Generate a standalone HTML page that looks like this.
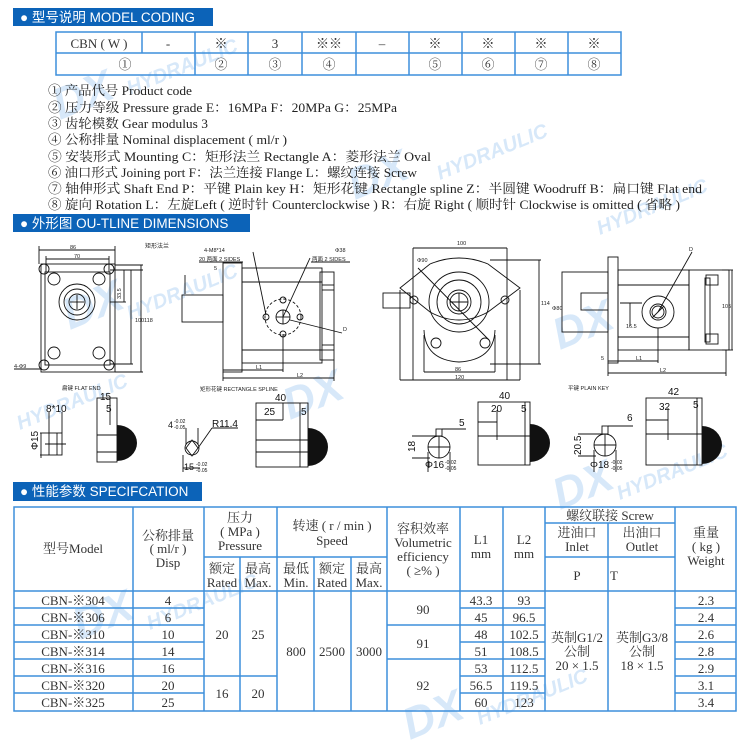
<!DOCTYPE html>
<html><head><meta charset="utf-8"><style>
html,body{margin:0;padding:0;background:#fff;}
svg{display:block;}
.s{font-family:"Liberation Serif","Noto Serif CJK SC","Noto Sans CJK SC",serif;}
.h{font-family:"Liberation Sans","Noto Sans CJK SC",sans-serif;}
</style></head><body>
<svg width="750" height="742" viewBox="0 0 750 742" xmlns="http://www.w3.org/2000/svg">
<rect width="750" height="742" fill="#fff"/>

<!-- watermarks -->
<g fill="#9cc6f0" opacity="0.4" class="h" font-weight="bold">
<text x="60" y="120" font-size="44" font-style="italic" transform="rotate(-22 60 120)">DX</text>
<text x="130" y="95" font-size="20" font-style="italic" transform="rotate(-22 130 95)">HYDRAULIC</text>
<text x="355" y="200" font-size="44" font-style="italic" transform="rotate(-22 355 200)">DX</text>
<text x="440" y="180" font-size="20" font-style="italic" transform="rotate(-22 440 180)">HYDRAULIC</text>
<text x="560" y="350" font-size="44" font-style="italic" transform="rotate(-22 560 350)">DX</text>
<text x="600" y="235" font-size="20" font-style="italic" transform="rotate(-22 600 235)">HYDRAULIC</text>
<text x="70" y="330" font-size="44" font-style="italic" transform="rotate(-22 70 330)">DX</text>
<text x="130" y="320" font-size="20" font-style="italic" transform="rotate(-22 130 320)">HYDRAULIC</text>
<text x="20" y="430" font-size="20" font-style="italic" transform="rotate(-22 20 430)">HYDRAULIC</text>
<text x="290" y="420" font-size="44" font-style="italic" transform="rotate(-22 290 420)">DX</text>
<text x="560" y="510" font-size="44" font-style="italic" transform="rotate(-22 560 510)">DX</text>
<text x="620" y="500" font-size="20" font-style="italic" transform="rotate(-22 620 500)">HYDRAULIC</text>
<text x="80" y="640" font-size="44" font-style="italic" transform="rotate(-22 80 640)">DX</text>
<text x="150" y="630" font-size="20" font-style="italic" transform="rotate(-22 150 630)">HYDRAULIC</text>
<text x="410" y="740" font-size="44" font-style="italic" transform="rotate(-22 410 740)">DX</text>
<text x="480" y="725" font-size="20" font-style="italic" transform="rotate(-22 480 725)">HYDRAULIC</text>
</g>

<!-- Section headers -->
<rect x="13" y="8" width="200" height="18" fill="#0c63b8"/>
<text x="20" y="22" class="h" font-size="13.5" fill="#fff">● 型号说明  MODEL CODING</text>
<rect x="13" y="214" width="237" height="18" fill="#0c63b8"/>
<text x="20" y="228" class="h" font-size="13.5" fill="#fff">● 外形图  OU-TLINE DIMENSIONS</text>
<rect x="13" y="482" width="189" height="19" fill="#0c63b8"/>
<text x="20" y="496" class="h" font-size="13.5" fill="#fff">● 性能参数  SPECIFCATION</text>

<!-- coding table -->
<g stroke="#3d8fdc" stroke-width="1.5" fill="none">
<rect x="56" y="32" width="565" height="43"/>
<line x1="56" y1="53" x2="621" y2="53"/>
<line x1="142" y1="32" x2="142" y2="53"/>
<line x1="195" y1="32" x2="195" y2="75"/>
<line x1="248" y1="32" x2="248" y2="75"/>
<line x1="302" y1="32" x2="302" y2="75"/>
<line x1="356" y1="32" x2="356" y2="75"/>
<line x1="409" y1="32" x2="409" y2="75"/>
<line x1="462" y1="32" x2="462" y2="75"/>
<line x1="515" y1="32" x2="515" y2="75"/>
<line x1="568" y1="32" x2="568" y2="75"/>
</g>
<g class="s" font-size="13" fill="#333" text-anchor="middle">
<text x="99" y="48">CBN ( W )</text><text x="168" y="48">-</text><text x="221" y="48">※</text><text x="275" y="48">3</text><text x="329" y="48">※※</text><text x="382" y="48">–</text><text x="435" y="48">※</text><text x="488" y="48">※</text><text x="541" y="48">※</text><text x="594" y="48">※</text>
<text x="125" y="69">①</text><text x="221" y="69">②</text><text x="275" y="69">③</text><text x="329" y="69">④</text><text x="435" y="69">⑤</text><text x="488" y="69">⑥</text><text x="541" y="69">⑦</text><text x="594" y="69">⑧</text>
</g>
<g class="s" font-size="13" fill="#222">
<text x="48" y="95" textLength="144" lengthAdjust="spacingAndGlyphs">① 产品代号 Product code</text>
<text x="48" y="112" textLength="349" lengthAdjust="spacingAndGlyphs">② 压力等级 Pressure grade E：16MPa  F：20MPa  G：25MPa</text>
<text x="48" y="128" textLength="160" lengthAdjust="spacingAndGlyphs">③ 齿轮模数 Gear modulus 3</text>
<text x="48" y="144" textLength="239" lengthAdjust="spacingAndGlyphs">④ 公称排量 Nominal displacement ( ml/r )</text>
<text x="48" y="161" textLength="383" lengthAdjust="spacingAndGlyphs">⑤ 安装形式 Mounting  C：矩形法兰 Rectangle   A：菱形法兰 Oval</text>
<text x="48" y="177" textLength="369" lengthAdjust="spacingAndGlyphs">⑥ 油口形式 Joining port F：法兰连接 Flange L：螺纹连接 Screw</text>
<text x="48" y="193" textLength="654" lengthAdjust="spacingAndGlyphs">⑦  轴伸形式 Shaft End  P：平键 Plain key  H：矩形花键 Rectangle spline  Z：半圆键 Woodruff  B：扁口键 Flat end</text>
<text x="48" y="209" textLength="632" lengthAdjust="spacingAndGlyphs">⑧ 旋向 Rotation L：左旋Left ( 逆时针 Counterclockwise ) R：右旋 Right ( 顺时针 Clockwise is omitted ( 省略 )</text>
</g>

<!-- DRAWINGS -->
<g stroke="#111" stroke-width="0.9" fill="none">
<rect x="41" y="264" width="74" height="108"/>
<rect x="45" y="272" width="65" height="93"/>
<circle cx="44" cy="269" r="5"/><circle cx="109" cy="269" r="5"/><circle cx="44" cy="365" r="5"/><circle cx="109" cy="365" r="5"/>
<circle cx="54" cy="279" r="6"/><circle cx="99" cy="279" r="6"/><circle cx="54" cy="353" r="6"/><circle cx="99" cy="353" r="6"/>
<circle cx="77" cy="302" r="18"/><circle cx="77" cy="302" r="13"/><circle cx="77" cy="302" r="8"/>
<line x1="70" y1="302" x2="84" y2="302"/><line x1="77" y1="295" x2="77" y2="309"/>
<line x1="39" y1="250" x2="115" y2="250"/><line x1="39" y1="246" x2="39" y2="264"/><line x1="115" y1="246" x2="115" y2="264"/>
<line x1="46" y1="259" x2="109" y2="259"/><line x1="46" y1="256" x2="46" y2="272"/><line x1="109" y1="256" x2="109" y2="272"/>
<line x1="124" y1="270" x2="124" y2="302"/><line x1="131" y1="270" x2="131" y2="364"/><line x1="141" y1="265" x2="141" y2="372"/>
<line x1="110" y1="270" x2="143" y2="270"/><line x1="110" y1="302" x2="126" y2="302"/><line x1="110" y1="364" x2="133" y2="364"/><line x1="115" y1="265" x2="143" y2="265"/><line x1="115" y1="372" x2="143" y2="372"/>
<line x1="14" y1="369" x2="42" y2="369"/>
<rect x="182" y="295" width="41" height="27"/>
<rect x="223" y="263" width="19" height="109"/>
<rect x="242" y="268" width="80" height="95"/>
<line x1="242" y1="282" x2="322" y2="282"/><line x1="242" y1="350" x2="322" y2="350"/>
<rect x="320" y="272" width="14" height="88"/>
<line x1="322" y1="285" x2="334" y2="285"/><line x1="322" y1="290" x2="334" y2="290"/><line x1="322" y1="345" x2="334" y2="345"/><line x1="322" y1="350" x2="334" y2="350"/>
<circle cx="283" cy="317" r="18" stroke-dasharray="3 2"/>
<circle cx="283" cy="317" r="7"/><circle cx="266" cy="317" r="3"/><circle cx="300" cy="317" r="3"/><circle cx="283" cy="300" r="3"/><circle cx="283" cy="334" r="3"/>
<line x1="276" y1="317" x2="290" y2="317"/><line x1="283" y1="310" x2="283" y2="324"/>
<line x1="253" y1="252" x2="266" y2="315"/><line x1="310" y1="258" x2="283" y2="317"/><line x1="290" y1="320" x2="342" y2="333"/>
<line x1="199" y1="262" x2="243" y2="262"/><line x1="311" y1="262" x2="350" y2="262"/>
<line x1="223" y1="370" x2="283" y2="370"/><line x1="223" y1="378" x2="334" y2="378"/><line x1="223" y1="372" x2="223" y2="381"/><line x1="283" y1="334" x2="283" y2="372"/><line x1="334" y1="360" x2="334" y2="381"/>
<line x1="185" y1="275" x2="185" y2="294"/>
<rect x="49" y="433" width="13" height="22"/><line x1="57" y1="433" x2="57" y2="455"/><line x1="45" y1="444" x2="66" y2="444"/>
<line x1="49" y1="412" x2="49" y2="433"/><line x1="62" y1="412" x2="62" y2="433"/><line x1="40" y1="433" x2="49" y2="433"/><line x1="40" y1="455" x2="49" y2="455"/><line x1="41" y1="433" x2="41" y2="458"/>
<rect x="97" y="398" width="20" height="64"/><line x1="97" y1="435" x2="117" y2="435"/><line x1="97" y1="452" x2="117" y2="452"/>
<line x1="110" y1="398" x2="110" y2="425"/>
<path d="M186 448 L192 440 L198 448 L192 456 Z"/><circle cx="192" cy="448" r="7"/>
<line x1="186" y1="428" x2="186" y2="445"/><line x1="198" y1="428" x2="198" y2="445"/><line x1="183" y1="468" x2="200" y2="468"/><line x1="183" y1="455" x2="183" y2="472"/>
<line x1="198" y1="448" x2="212" y2="428"/><line x1="212" y1="428" x2="238" y2="428"/>
<rect x="256" y="403" width="52" height="64"/><line x1="256" y1="420" x2="283" y2="420"/><line x1="283" y1="403" x2="283" y2="420"/><line x1="256" y1="440" x2="308" y2="440"/><line x1="256" y1="452" x2="308" y2="452"/>
<line x1="300" y1="403" x2="300" y2="467"/>
<path d="M400 288 L430 264 Q459 252 488 264 L520 288 L488 312 Q459 328 430 312 Z"/>
<circle cx="459" cy="302" r="30"/><circle cx="459" cy="302" r="22"/><circle cx="459" cy="302" r="12"/><circle cx="459" cy="302" r="9"/>
<line x1="450" y1="302" x2="468" y2="302"/><line x1="459" y1="293" x2="459" y2="311"/>
<line x1="418" y1="268" x2="489" y2="340"/>
<path d="M424 330 Q425 360 459 362 Q494 360 495 330"/>
<circle cx="436" cy="343" r="5"/><circle cx="485" cy="343" r="5"/>
<circle cx="414" cy="300" r="4"/><circle cx="505" cy="300" r="4"/>
<rect x="383" y="293" width="27" height="15"/>
<line x1="413" y1="248" x2="507" y2="248"/><line x1="413" y1="248" x2="413" y2="380"/><line x1="507" y1="248" x2="507" y2="380"/>
<line x1="400" y1="380" x2="520" y2="380"/><line x1="400" y1="290" x2="400" y2="380"/><line x1="520" y1="290" x2="520" y2="380"/>
<line x1="424" y1="372" x2="495" y2="372"/><line x1="424" y1="335" x2="424" y2="372"/><line x1="495" y1="335" x2="495" y2="372"/>
<line x1="539" y1="260" x2="539" y2="364"/><line x1="490" y1="260" x2="541" y2="260"/><line x1="490" y1="364" x2="541" y2="364"/>
<rect x="562" y="272" width="46" height="60"/>
<rect x="581" y="293" width="27" height="17"/>
<rect x="608" y="257" width="10" height="106"/>
<rect x="618" y="270" width="71" height="80"/>
<line x1="618" y1="285" x2="689" y2="285"/><line x1="618" y1="337" x2="689" y2="337"/>
<rect x="689" y="270" width="40" height="80"/>
<rect x="705" y="278" width="5" height="64"/>
<rect x="706" y="275" width="12" height="10"/><rect x="706" y="334" width="12" height="10"/>
<circle cx="658" cy="312" r="16"/><circle cx="658" cy="312" r="8"/><circle cx="658" cy="312" r="6"/>
<line x1="652" y1="318" x2="664" y2="306"/><line x1="658" y1="312" x2="692" y2="252"/>
<line x1="620" y1="303" x2="642" y2="303"/><line x1="630" y1="303" x2="630" y2="326"/>
<line x1="608" y1="361" x2="658" y2="361"/><line x1="658" y1="328" x2="658" y2="363"/>
<line x1="608" y1="373" x2="726" y2="373"/><line x1="608" y1="363" x2="608" y2="376"/><line x1="726" y1="350" x2="726" y2="376"/>
<line x1="722" y1="270" x2="733" y2="270"/><line x1="722" y1="350" x2="733" y2="350"/><line x1="732" y1="270" x2="732" y2="350"/>
<circle cx="439" cy="447" r="11"/><line x1="428" y1="447" x2="450" y2="447"/><line x1="439" y1="436" x2="439" y2="458"/>
<rect x="436" y="429" width="6" height="7"/><line x1="442" y1="429" x2="466" y2="429"/>
<line x1="412" y1="436" x2="436" y2="436"/><line x1="412" y1="458" x2="430" y2="458"/><line x1="428" y1="452" x2="428" y2="472"/><line x1="450" y1="452" x2="450" y2="472"/>
<rect x="478" y="402" width="52" height="63"/><line x1="478" y1="422" x2="497" y2="422"/><line x1="497" y1="410" x2="497" y2="440"/><line x1="478" y1="436" x2="530" y2="436"/>
<line x1="525" y1="402" x2="525" y2="465"/>
<circle cx="605" cy="445" r="11"/><line x1="594" y1="445" x2="616" y2="445"/><line x1="605" y1="434" x2="605" y2="456"/>
<rect x="602" y="426" width="6" height="8"/><line x1="608" y1="426" x2="633" y2="426"/>
<line x1="578" y1="434" x2="602" y2="434"/><line x1="578" y1="456" x2="596" y2="456"/><line x1="594" y1="450" x2="594" y2="472"/><line x1="616" y1="450" x2="616" y2="472"/>
<rect x="646" y="398" width="56" height="67"/><line x1="646" y1="420" x2="668" y2="420"/><line x1="668" y1="408" x2="668" y2="440"/><line x1="646" y1="434" x2="702" y2="434"/>
<line x1="697" y1="398" x2="697" y2="465"/>
</g>
<g fill="#111">
<path d="M117 425 A20 18 0 0 1 117 461 Z"/>
<path d="M308 428 A20 19 0 0 1 308 466 Z"/>
<path d="M530 424 A20 19 0 0 1 530 462 Z"/>
<path d="M702 426 A20 19 0 0 1 702 464 Z"/>
</g>
<g class="h" font-size="5.5" fill="#222">
<text x="70" y="249">86</text><text x="74" y="258">70</text>
<text x="118" y="296" transform="rotate(-90 121 296)">33.5</text>
<text x="135" y="322">100</text><text x="144" y="322">118</text>
<text x="14" y="368">4-Φ9</text>
<text x="145" y="248" font-size="6">矩形法兰</text>
<text x="204" y="252">4-M8*14</text><text x="335" y="252">Φ38</text>
<text x="199" y="261">20 两面 2 SIDES</text><text x="312" y="261">两面 2 SIDES</text>
<text x="214" y="270">5</text><text x="343" y="331">D</text>
<text x="256" y="369">L1</text><text x="297" y="377">L2</text>
<text x="62" y="390">扁键 FLAT END</text>
<text x="200" y="391">矩形花键  RECTANGLE  SPLINE</text>
<text x="457" y="245">100</text><text x="417" y="262">Φ90</text><text x="541" y="305">114</text>
<text x="455" y="371">86</text><text x="455" y="379">120</text>
<text x="689" y="251">D</text><text x="722" y="308">105</text><text x="626" y="328">16.5</text>
<text x="552" y="310">Φ80</text><text x="636" y="360">L1</text><text x="660" y="372">L2</text><text x="601" y="360">5</text>
<text x="568" y="390">平键 PLAIN KEY</text>
</g>
<g class="h" font-size="10" fill="#111">
<text x="100" y="400">15</text><text x="46" y="412">8*10</text><text x="106" y="412">5</text>
<text x="38" y="450" transform="rotate(-90 38 450)">Φ15</text>
<text x="168" y="428" font-size="9">4</text><text x="174" y="423" font-size="5">-0.02</text><text x="174" y="429" font-size="5">-0.05</text>
<text x="212" y="427">R11.4</text>
<text x="184" y="470" font-size="9">15</text><text x="196" y="466" font-size="5">-0.02</text><text x="196" y="472" font-size="5">-0.05</text>
<text x="275" y="401">40</text><text x="264" y="415">25</text><text x="301" y="415">5</text>
<text x="499" y="399">40</text><text x="491" y="412">20</text><text x="521" y="412">5</text>
<text x="459" y="426">5</text><text x="415" y="452" transform="rotate(-90 415 452)">18</text>
<text x="425" y="468">Φ16</text><text x="445" y="464" font-size="5">-0.02</text><text x="445" y="470" font-size="5">-0.05</text>
<text x="627" y="421">6</text><text x="581" y="455" transform="rotate(-90 581 455)">20.5</text>
<text x="590" y="468">Φ18</text><text x="611" y="464" font-size="5">-0.02</text><text x="611" y="470" font-size="5">-0.05</text>
<text x="668" y="395">42</text><text x="659" y="410">32</text><text x="693" y="408">5</text>
</g>

<!-- SPEC TABLE -->
<g stroke="#3d8fdc" stroke-width="1.5" fill="none">
<rect x="14" y="507" width="722" height="204"/>
<line x1="133" y1="507" x2="133" y2="711"/>
<line x1="204" y1="507" x2="204" y2="711"/>
<line x1="277" y1="507" x2="277" y2="711"/>
<line x1="240" y1="557" x2="240" y2="711"/>
<line x1="314" y1="557" x2="314" y2="711"/>
<line x1="351" y1="557" x2="351" y2="711"/>
<line x1="387" y1="507" x2="387" y2="711"/>
<line x1="460" y1="507" x2="460" y2="711"/>
<line x1="503" y1="507" x2="503" y2="711"/>
<line x1="545" y1="507" x2="545" y2="711"/>
<line x1="608" y1="523" x2="608" y2="711"/>
<line x1="675" y1="507" x2="675" y2="711"/>
<line x1="204" y1="557" x2="387" y2="557"/>
<line x1="545" y1="523" x2="675" y2="523"/>
<line x1="545" y1="557" x2="675" y2="557"/>
<line x1="14" y1="591" x2="736" y2="591"/>
<line x1="14" y1="608" x2="204" y2="608"/><line x1="460" y1="608" x2="545" y2="608"/><line x1="675" y1="608" x2="736" y2="608"/>
<line x1="14" y1="625" x2="204" y2="625"/><line x1="387" y1="625" x2="545" y2="625"/><line x1="675" y1="625" x2="736" y2="625"/>
<line x1="14" y1="642" x2="204" y2="642"/><line x1="460" y1="642" x2="545" y2="642"/><line x1="675" y1="642" x2="736" y2="642"/>
<line x1="14" y1="659" x2="204" y2="659"/><line x1="387" y1="659" x2="545" y2="659"/><line x1="675" y1="659" x2="736" y2="659"/>
<line x1="14" y1="676" x2="277" y2="676"/><line x1="460" y1="676" x2="545" y2="676"/><line x1="675" y1="676" x2="736" y2="676"/>
<line x1="14" y1="693" x2="204" y2="693"/><line x1="460" y1="693" x2="545" y2="693"/><line x1="675" y1="693" x2="736" y2="693"/>
</g>
<g class="s" font-size="13" fill="#333" text-anchor="middle">
<text x="73" y="553">型号Model</text>
<text x="168" y="540">公称排量</text><text x="168" y="553">( ml/r )</text><text x="168" y="567">Disp</text>
<text x="240" y="522">压力</text><text x="240" y="536">( MPa )</text><text x="240" y="550">Pressure</text>
<text x="222" y="573">额定</text><text x="222" y="587">Rated</text><text x="258" y="573">最高</text><text x="258" y="587">Max.</text>
<text x="332" y="530">转速 ( r / min )</text><text x="332" y="545">Speed</text>
<text x="296" y="573">最低</text><text x="296" y="587">Min.</text><text x="332" y="573">额定</text><text x="332" y="587">Rated</text><text x="369" y="573">最高</text><text x="369" y="587">Max.</text>
<text x="423" y="533">容积效率</text><text x="423" y="547">Volumetric</text><text x="423" y="561">efficiency</text><text x="423" y="575">( ≥% )</text>
<text x="481" y="544">L1</text><text x="481" y="558">mm</text>
<text x="524" y="544">L2</text><text x="524" y="558">mm</text>
<text x="610" y="520">螺纹联接 Screw</text>
<text x="577" y="537">进油口</text><text x="577" y="551">Inlet</text>
<text x="642" y="537">出油口</text><text x="642" y="551">Outlet</text>
<text x="577" y="580">P</text><text x="614" y="580">T</text>
<text x="706" y="537">重量</text><text x="706" y="551">( kg )</text><text x="706" y="565">Weight</text>
<text x="73" y="605">CBN-※304</text><text x="73" y="622">CBN-※306</text><text x="73" y="639">CBN-※310</text><text x="73" y="656">CBN-※314</text><text x="73" y="673">CBN-※316</text><text x="73" y="690">CBN-※320</text><text x="73" y="707">CBN-※325</text>
<text x="168" y="605">4</text><text x="168" y="622">6</text><text x="168" y="639">10</text><text x="168" y="656">14</text><text x="168" y="673">16</text><text x="168" y="690">20</text><text x="168" y="707">25</text>
<text x="222" y="639">20</text><text x="258" y="639">25</text><text x="222" y="698">16</text><text x="258" y="698">20</text>
<text x="296" y="656">800</text><text x="332" y="656">2500</text><text x="369" y="656">3000</text>
<text x="423" y="614">90</text><text x="423" y="648">91</text><text x="423" y="690">92</text>
<text x="481" y="605">43.3</text><text x="481" y="622">45</text><text x="481" y="639">48</text><text x="481" y="656">51</text><text x="481" y="673">53</text><text x="481" y="690">56.5</text><text x="481" y="707">60</text>
<text x="524" y="605">93</text><text x="524" y="622">96.5</text><text x="524" y="639">102.5</text><text x="524" y="656">108.5</text><text x="524" y="673">112.5</text><text x="524" y="690">119.5</text><text x="524" y="707">123</text>
<text x="577" y="642">英制G1/2</text><text x="577" y="656">公制</text><text x="577" y="670">20 × 1.5</text>
<text x="642" y="642">英制G3/8</text><text x="642" y="656">公制</text><text x="642" y="670">18 × 1.5</text>
<text x="706" y="605">2.3</text><text x="706" y="622">2.4</text><text x="706" y="639">2.6</text><text x="706" y="656">2.8</text><text x="706" y="673">2.9</text><text x="706" y="690">3.1</text><text x="706" y="707">3.4</text>
</g>
</svg>
</body></html>
